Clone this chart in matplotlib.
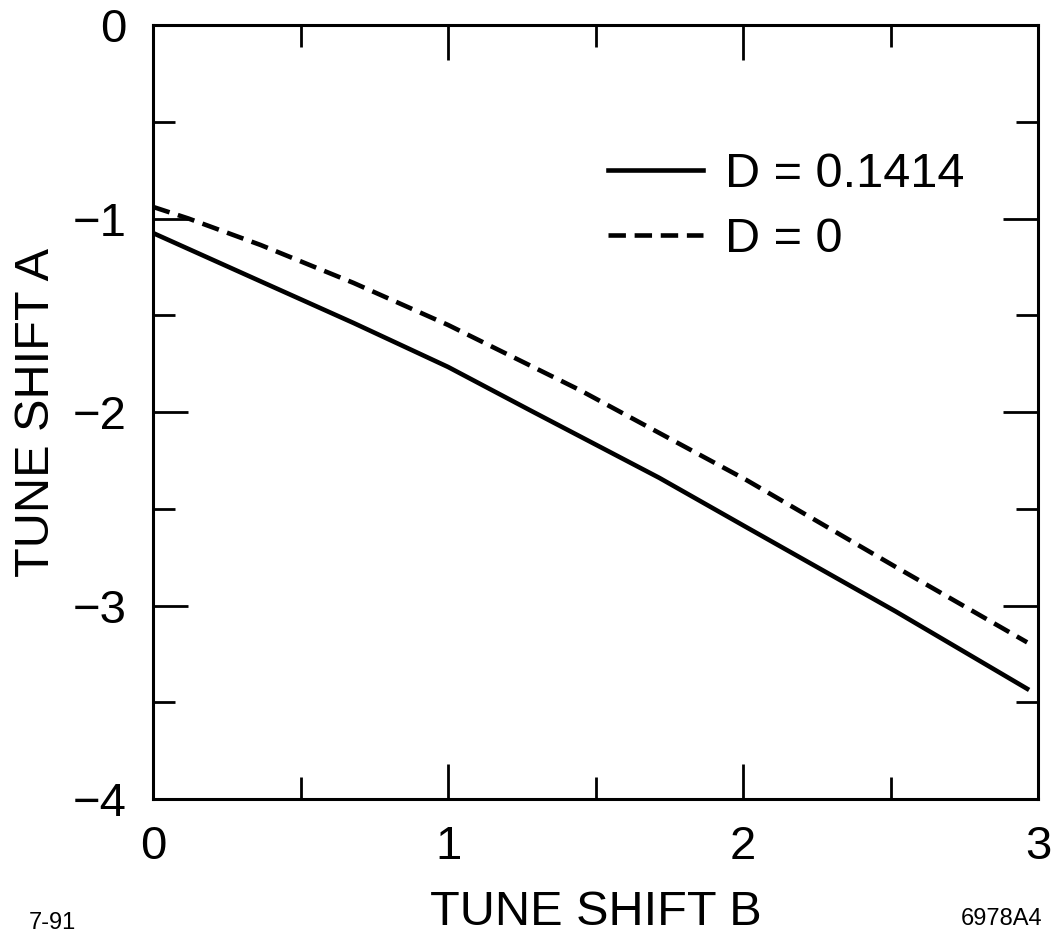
import numpy as np
import matplotlib
matplotlib.use('Agg')
import matplotlib.pyplot as plt
from matplotlib.ticker import MultipleLocator

plt.rcParams['font.family'] = ['Liberation Sans', 'DejaVu Sans']

# data
b_solid = [0.0, 0.355, 0.68, 1.0, 1.277, 1.716, 2.01, 2.517, 2.963]
a_solid = [-1.075, -1.318, -1.54, -1.767, -1.99, -2.34, -2.594, -3.03, -3.43]
b_dash = [0.0, 0.12, 0.365, 0.68, 1.0, 1.446, 2.01, 2.517, 2.963]
a_dash = [-0.94, -1.0, -1.137, -1.333, -1.55, -1.886, -2.35, -2.80, -3.19]
labels = ['D = 0.1414', 'D = 0']

fig = plt.figure(figsize=(10.53, 9.39), dpi=100)
ax = fig.add_axes([0.1453, 0.149, 0.8405, 0.8244])

ax.plot(b_solid, a_solid, color='black', lw=3.3, label=labels[0])
ax.plot(b_dash, a_dash, color='black', lw=3.3, ls=(0, (3.8, 1.9)), label=labels[1])

ax.set_xlim(0, 3)
ax.set_ylim(-4, 0)
ax.xaxis.set_major_locator(MultipleLocator(1))
ax.xaxis.set_minor_locator(MultipleLocator(0.5))
ax.yaxis.set_major_locator(MultipleLocator(1))
ax.yaxis.set_minor_locator(MultipleLocator(0.5))

ax.tick_params(which='both', direction='in', top=True, right=True, width=2, labelsize=34)
ax.tick_params(which='major', length=25, pad=19)
ax.tick_params(which='minor', length=16)
for s in ax.spines.values():
    s.set_linewidth(2.2)

ax.set_xlabel('TUNE SHIFT B', fontsize=35, labelpad=15)
ax.set_ylabel('TUNE SHIFT A', fontsize=35, labelpad=10)

leg = ax.legend(loc='upper left', bbox_to_anchor=(0.514, 0.836), frameon=False,
                fontsize=35, handlelength=1.95, handletextpad=0.45,
                labelspacing=0.42, borderpad=0, borderaxespad=0)

fig.text(0.027, 0.005, '7-91', fontsize=17, ha='left', va='bottom')
fig.text(0.99, 0.01, '6978A4', fontsize=17, ha='right', va='bottom')

fig.savefig('out.png', dpi=100)
